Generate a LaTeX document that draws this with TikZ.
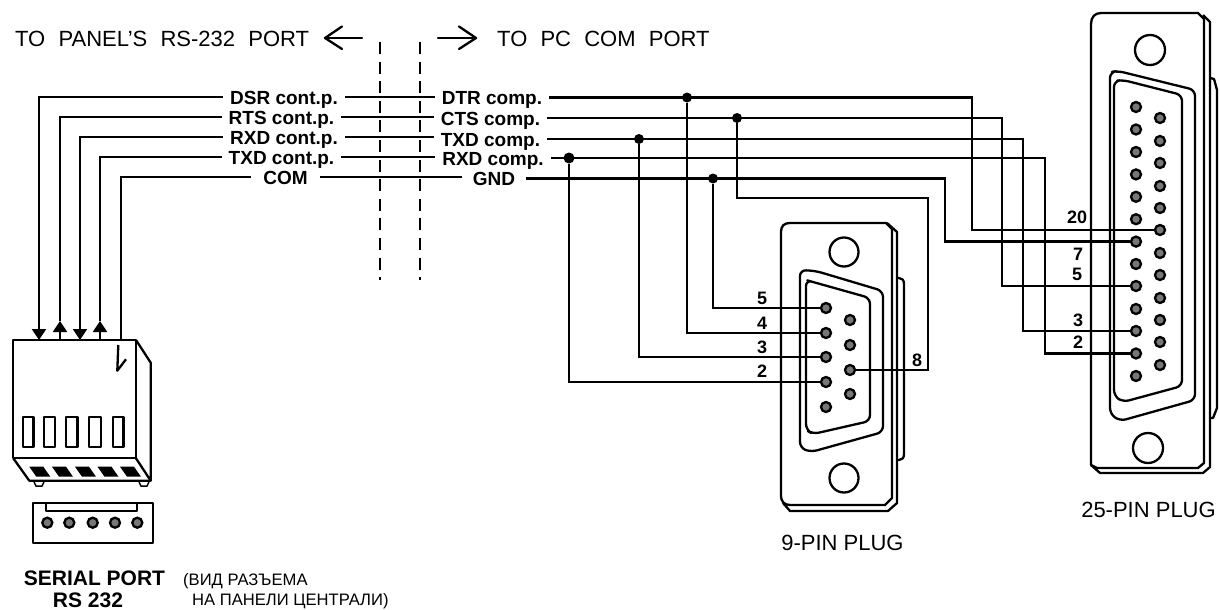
\documentclass[tikz,border=0pt]{standalone}
\usepackage{fontspec}
\setmainfont{Liberation Sans}
\usetikzlibrary{arrows.meta}
\definecolor{pingray}{HTML}{777777}
\newcommand{\fsz}[1]{\fontsize{#1}{#1}\selectfont}
\tikzset{
 outline/.style={line width=2.3pt,line join=round},
 wire/.style={line width=2.3pt,line join=miter},
 sigl/.style={font=\fsz{19}\bfseries,inner ysep=0pt,inner xsep=7pt,text height=14pt,text depth=0pt},
 pinn/.style={font=\fsz{18}\bfseries,inner sep=0pt},
 note/.style={font=\fsz{22},inner sep=0pt,anchor=west},
 pin/.style={circle,draw=black,fill=pingray,line width=2.3pt,minimum size=10pt,inner sep=0pt},
 dot/.style={circle,fill=black,minimum size=10pt,inner sep=0pt},
 cut/.style={line width=2.3pt,dash pattern=on 12pt off 7.6pt},
 pointer/.style={line width=2.3pt,line cap=round,line join=round},
 tip/.style={wire,-{Triangle[length=11pt,width=14pt]}},
}
\begin{document}
\begin{tikzpicture}[x=1pt,y=-1pt]
\useasboundingbox (0,0) rectangle (1220,610);
% ---------- notes
\node[note] (tp) at (15,39) {TO\hspace{.6em}PANEL'S\hspace{.6em}RS-232\hspace{.6em}PORT};
\node[note] (tc) at (497,39) {TO\hspace{.6em}PC\hspace{.6em}COM\hspace{.6em}PORT};
\coordinate (al1) at (362,38); \coordinate (al2) at (325,38);
\coordinate (ar1) at (438,38); \coordinate (ar2) at (476,38);
\draw[pointer] (al1) -- (al2);
\draw[pointer] (342,26.5) -- (al2) -- (342,49);
\draw[pointer] (ar1) -- (ar2);
\draw[pointer] (459,26.5) -- (ar2) -- (459,49);
\draw[cut] (380,42) -- (380,280);
\draw[cut] (420,42) -- (420,280);
% ---------- 9 pin body
\draw[outline] (781,232) .. controls (781,226) and (784,223) .. (790,223)
  -- (886,223) -- (892,229) -- (892,498) -- (885,505) -- (790,505)
  .. controls (784,505) and (781,501) .. (781,496) -- cycle;
\draw[outline] (887,223) -- (897,232) -- (897,503) -- (888,511) -- (790,511) -- (783,503);
\draw[outline] (897,278) -- (899,278) .. controls (902,278) and (904,280) .. (904,284) -- (904,454) .. controls (904,458) and (902,460) .. (899,460) -- (897,460);
\draw[outline] (844,252) circle (14.5);
\draw[outline] (844,478) circle (14.5);
\draw[outline,rounded corners=6pt] (800,270) -- (816,271) -- (883,291) -- (883,432) -- (811,452) -- (800,448) -- cycle;
\draw[outline,rounded corners=6pt] (806,280) -- (813,282) -- (870,298) -- (870,421) -- (813,434) -- (806,430) -- cycle;
% ---------- 25 pin body
\draw[outline] (1091,24) .. controls (1091,17) and (1095,13) .. (1101,13) -- (1198,13) -- (1204,19)
  -- (1204,463) -- (1198,468) -- (1097,468) -- (1091,465) -- cycle;
\draw[outline] (1203,15) -- (1210,22) -- (1210,467) -- (1203,473) -- (1100,473) -- (1091,465);
\draw[outline] (1210,78) -- (1214,79) -- (1217,90) -- (1217,408) -- (1213,418) -- (1210,418);
\draw[outline] (1150,50) circle (15);
\draw[outline] (1148,448) circle (15);
\draw[outline,rounded corners=6pt] (1110,72) -- (1118,71) -- (1195,90) -- (1195,400) -- (1120,421) -- (1110,414) -- cycle;
\draw[outline,rounded corners=6pt] (1114,81) -- (1123,80) -- (1182,95) -- (1182,386) -- (1123,402) -- (1114,396) -- cycle;
% ---------- pins, 9 pin
\foreach \n/\y in {1/308,2/333,3/357,4/382,5/407} \node[pin] (a\n) at (826,\y) {};
\foreach \n/\y in {1/320,2/345,3/370,4/394} \node[pin] (b\n) at (850,\y) {};
% ---------- pins, 25 pin
\foreach \n/\y in {1/107,2/129.5,3/152,4/174.4,5/196.8,6/219.2,7/241.6,8/264,9/286,10/309,11/331,12/353.5,13/376} \node[pin] (c\n) at (1136,\y) {};
\foreach \n/\y in {1/118,2/141,3/163,4/186,5/208,6/230,7/253,8/275,9/298,10/320,11/342,12/365} \node[pin] (d\n) at (1160,\y) {};
% ---------- signal labels
\node[sigl] (dsr) at (284,97) {DSR cont.p.};
\node[sigl] (rts) at (281.5,117) {RTS cont.p.};
\node[sigl] (rxdl) at (284,137) {RXD cont.p.};
\node[sigl] (txdl) at (281.5,157) {TXD cont.p.};
\node[sigl,inner xsep=12pt] (com) at (285.5,177) {COM};
\node[sigl] (dtr) at (492,97.5) {DTR comp.};
\node[sigl] (cts) at (490.5,118) {CTS comp.};
\node[sigl] (txdr) at (490.5,139) {TXD comp.};
\node[sigl] (rxdr) at (493,158) {RXD comp.};
\node[sigl,inner xsep=11pt] (gnd) at (494,178.5) {GND};
% ---------- left wires
\coordinate (t1) at (39,340); \coordinate (t2) at (60,321); \coordinate (t3) at (80,340);
\coordinate (t4) at (100,321); \coordinate (t5) at (121,340);
\coordinate (s2) at (60,340); \coordinate (s4) at (100,340);
\draw[tip] (dsr.west) -| (t1);
\draw[wire] (rts.west) -| (t2);
\draw[tip] (s2) -- (t2);
\draw[tip] (rxdl.west) -| (t3);
\draw[wire] (txdl.west) -| (t4);
\draw[tip] (s4) -- (t4);
\draw[wire] (com.west) -| (t5);
% ---------- middle wires
\draw[wire] (dsr.east) -- (dsr.east -| dtr.west);
\draw[wire] (rts.east) -- (rts.east -| cts.west);
\draw[wire] (rxdl.east) -- (rxdl.east -| txdr.west);
\draw[wire] (txdl.east) -- (txdl.east -| rxdr.west);
\draw[wire] (com.east) -- (com.east -| gnd.west);
% ---------- right wires
\draw[wire] (dtr.east) -- (972,97.5) |- (d6);
\draw[wire] (cts.east) -- (1002,118) |- (c9);
\draw[wire] (txdr.east) -- (1023,139) |- (c11);
\draw[wire] (rxdr.east) -- (1045,158) |- (c12);
\draw[wire] (gnd.east) -- (945,178.5) |- (c7);
% junctions
\node[dot] (j1) at (687,97.5) {};
\node[dot] (j2) at (737,118) {};
\node[dot] (j3) at (639,139) {};
\node[dot,minimum size=11pt] (j4) at (569,158) {};
\node[dot] (j5) at (713,178.5) {};
\draw[wire] (j1) |- (a2);
\draw[wire] (j3) |- (a3);
\draw[wire] (j4) |- (a4);
\draw[wire] (j5) |- (a1);
\coordinate (k2) at (928,198);
\draw[wire] (j2) |- (k2) |- (b3);
% pin numbers
\node[pinn] (n5) at (762,298) {5};
\node[pinn] (n4) at (762,323) {4};
\node[pinn] (n3) at (762,347) {3};
\node[pinn] (n2) at (762,371) {2};
\node[pinn] (n8) at (917,360) {8};
\node[pinn] (m20) at (1077,217) {20};
\node[pinn] (m7) at (1078,254) {7};
\node[pinn] (m5) at (1077,274) {5};
\node[pinn] (m3) at (1078,320) {3};
\node[pinn] (m2) at (1078,342) {2};
% ---------- serial port block
\draw[outline] (13.3,340) rectangle (136,458.3);
\draw[outline] (136,340) -- (150.7,362.7) -- (150.7,480.7) -- (136,458.3);
\draw[outline] (13.3,458.3) -- (29.3,480.7) -- (150.7,480.7);
\draw[outline] (118.3,345) -- (117.3,370.7) -- (126,359.3);
\foreach \x/\w in {22.7/10.7,44/11,65.7/11.7,89.3/11.7,112.7/10.7} \draw[outline] (\x,416.7) rectangle ++(\w,30);
\foreach \x in {29.3,52,75,97.5,120}
  \fill (\x,466.7) -- ++(14,0) -- ++(7,10) -- ++(-14,0) -- cycle;
\draw[line width=1.5pt] (34,482) -- (36,486) -- (42,486) -- (44,482);
\draw[line width=1.5pt] (139,482) -- (141,486) -- (147,486) -- (149,482);
\draw[outline] (32.7,503.3) rectangle (153.3,542.7);
\draw[outline] (46,503.3) rectangle (137.3,510.7);
\foreach \n/\x in {1/47.3,2/69.3,3/92.7,4/115,5/137.3} \node[pin] (h\n) at (\x,522.7) {};
% ---------- captions
\node[font=\fsz{21}\bfseries,inner sep=0pt] (sp) at (94.5,578) {SERIAL PORT};
\node[font=\fsz{21}\bfseries,inner sep=0pt] (rs) at (88,600) {RS 232};
\node[font=\fsz{16.6},inner sep=0pt,anchor=west] (v1) at (183,581) {(ВИД РАЗЪЕМА};
\node[font=\fsz{16.6},inner sep=0pt,anchor=west] (v2) at (192,601) {НА ПАНЕЛИ ЦЕНТРАЛИ)};
\node[font=\fsz{22},inner sep=0pt] (p9) at (842.5,543) {9-PIN PLUG};
\node[font=\fsz{22},inner sep=0pt] (p25) at (1148.5,510) {25-PIN PLUG};
\end{tikzpicture}
\end{document}
